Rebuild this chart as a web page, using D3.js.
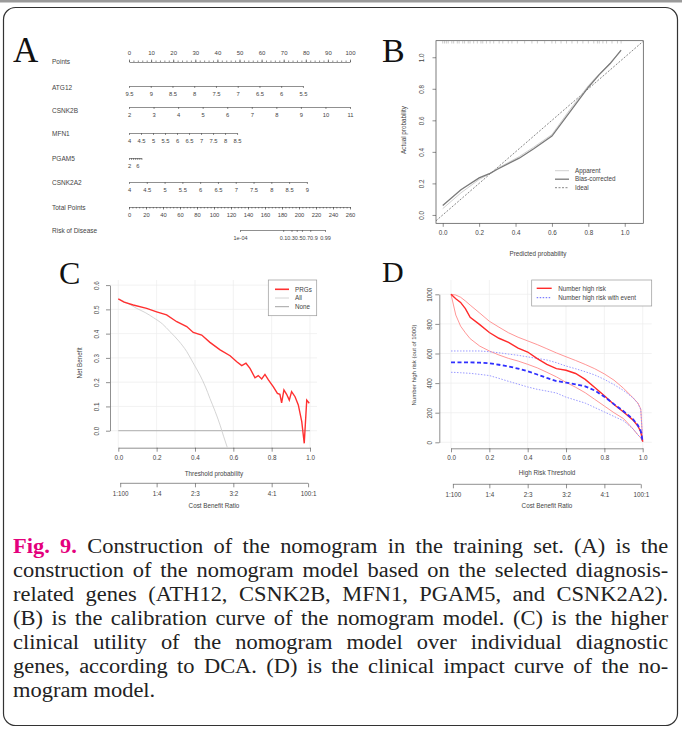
<!DOCTYPE html>
<html>
<head>
<meta charset="utf-8">
<script src="https://cdn.jsdelivr.net/npm/d3@7"></script>
<style>
  body { margin: 0; background: #fff; }
  #fig { position: relative; width: 682px; height: 731px; overflow: hidden; }
  #fig svg { position: absolute; left: 0; top: 0; }
  .cap { position: absolute; left: 13px; top: 534px; width: 630px;
         transform: scaleX(1.04); transform-origin: left top;
         font-family: "Liberation Serif", "Times New Roman", serif;
         font-size: 21.6px; line-height: 24px; color: #222; }
  .cap div { text-align: justify; text-align-last: justify; white-space: nowrap; }
  .cap div.last { text-align-last: left; }
  .cap .fig { color: #e4007c; font-weight: bold; }
</style>
</head>
<body>
<div id="fig"></div>
<script>
// ---------- data ----------
// A: nomogram
const pointTicks = [0, 10, 20, 30, 40, 50, 60, 70, 80, 90, 100];
const atg12Ticks = [9.5, 9, 8.5, 8, 7.5, 7, 6.5, 6, 5.5];
const atg12Points = [0, 78.7];
const csnk2bTicks = [2, 3, 4, 5, 6, 7, 8, 9, 10, 11];
const csnk2bPoints = [0, 100];
const mfn1Ticks = [4, 4.5, 5, 5.5, 6, 6.5, 7, 7.5, 8, 8.5];
const mfn1Points = [0, 48.9];
const pgam5Ticks = [2, 3, 4, 5, 6, 7, 8];
const pgam5Labels = [2, 6];
const pgam5Points = [0, 5.6];
const csnk2a2Ticks = [4, 4.5, 5, 5.5, 6, 6.5, 7, 7.5, 8, 8.5, 9];
const csnk2a2Points = [0, 80.5];
const totalTicks = [0, 20, 40, 60, 80, 100, 120, 140, 160, 180, 200, 220, 240, 260];
const riskTicks = [1e-4, 0.1, 0.3, 0.5, 0.7, 0.9, 0.99];
const riskLabels = ["1e-04", "0.1", "0.3", "0.5", "0.7", "0.9", "0.99"];
const riskTotalPoints = [130.6, 230.6];   // total points at 1e-04 and 0.99

// B: calibration
const calTicks = [0, 0.2, 0.4, 0.6, 0.8, 1.0];
const calPred = [0, 0.1, 0.2, 0.26, 0.3, 0.42, 0.5, 0.6, 0.7, 0.8, 0.86, 0.92, 0.98];
const calApparent = [0.04, 0.14, 0.225, 0.262, 0.295, 0.37, 0.43, 0.51, 0.67, 0.82, 0.895, 0.965, 1.04];
const calBias = [0.06, 0.16, 0.235, 0.264, 0.29, 0.36, 0.42, 0.50, 0.655, 0.81, 0.89, 0.96, 1.045];
const rugPred = [0.0, 0.01, 0.02, 0.03, 0.05, 0.06, 0.08, 0.09, 0.11, 0.12, 0.14, 0.15, 0.17, 0.19,
  0.21, 0.22, 0.24, 0.26, 0.28, 0.31, 0.33, 0.36, 0.38, 0.41, 0.45, 0.49, 0.52, 0.56, 0.6, 0.62,
  0.65, 0.68, 0.71, 0.74, 0.77, 0.8, 0.83, 0.85, 0.86, 0.88, 0.9, 0.93, 0.96, 0.98];

// C: decision curve
const thrTicks = [0, 0.2, 0.4, 0.6, 0.8, 1.0];
const nbTicks = [0, 0.1, 0.2, 0.3, 0.4, 0.5, 0.6];
const cbTicks = [0.0099, 0.2, 0.4, 0.6, 0.8, 0.99];
const cbLabels = ["1:100", "1:4", "2:3", "3:2", "4:1", "100:1"];
const prgThreshold = [0, 0.03, 0.078, 0.148, 0.2, 0.252, 0.305, 0.357, 0.391, 0.435, 0.478, 0.531,
  0.583, 0.618, 0.644, 0.666, 0.687, 0.713, 0.73, 0.748, 0.765, 0.783, 0.809, 0.83, 0.843, 0.852,
  0.864, 0.878, 0.892, 0.904, 0.922, 0.939, 0.957, 0.97, 0.983, 0.996];
const prgNetBenefit = [0.543, 0.53, 0.518, 0.504, 0.49, 0.477, 0.449, 0.429, 0.405, 0.394, 0.364, 0.333,
  0.309, 0.284, 0.268, 0.278, 0.257, 0.218, 0.227, 0.213, 0.232, 0.209, 0.181, 0.154, 0.15, 0.115,
  0.168, 0.15, 0.126, 0.161, 0.14, 0.106, 0.037, -0.052, 0.126, 0.113];
const allThreshold = [0, 0.05, 0.096, 0.14, 0.183, 0.23, 0.27, 0.315, 0.357, 0.39, 0.426, 0.455, 0.478, 0.505, 0.531, 0.55, 0.569];
const allNetBenefit = [0.543, 0.525, 0.504, 0.487, 0.466, 0.44, 0.408, 0.37, 0.326, 0.28, 0.229, 0.18, 0.133, 0.08, 0.023, -0.025, -0.07];
const noneThreshold = [0, 1];
const noneNetBenefit = [0, 0];

// D: clinical impact curve
const cicTicks = [0, 200, 400, 600, 800, 1000];
const cicThreshold = [0, 0.025, 0.05, 0.075, 0.1, 0.15, 0.2, 0.25, 0.3, 0.35, 0.4, 0.45, 0.5,
  0.55, 0.6, 0.65, 0.7, 0.75, 0.8, 0.85, 0.9, 0.95, 0.975, 0.99, 1];
const highRisk = [1000, 970, 945, 903, 845, 795, 742, 703, 675, 636, 610, 565, 527, 498, 487, 465, 425, 370, 315, 255, 205, 150, 110, 70, 5];
const highRiskUpper = [1000, 995, 980, 955, 927, 873, 818, 778, 740, 710, 685, 660, 632, 604, 578, 553, 526, 497, 462, 420, 365, 300, 265, 225, 5];
const highRiskLower = [1000, 860, 785, 740, 700, 650, 617, 590, 567, 549, 527, 503, 473, 442, 405, 372, 335, 290, 245, 200, 160, 90, 50, 30, 5];
const withEvent = [540, 540, 540, 540, 540, 538, 534, 524, 513, 498, 480, 458, 435, 414, 403, 392, 378, 350, 308, 258, 210, 155, 115, 75, 5];
const withEventUpper = [617, 617, 617, 617, 617, 617, 612, 605, 596, 588, 577, 567, 556, 538, 515, 497, 477, 455, 425, 390, 350, 300, 262, 220, 5];
const withEventLower = [473, 472, 470, 468, 466, 459, 451, 432, 412, 393, 374, 358, 346, 333, 305, 285, 265, 235, 205, 175, 145, 90, 50, 30, 5];

// ---------- setup ----------
const W = 682, H = 731;
const FONT = "'Liberation Sans', Arial, sans-serif";
const SERIF = "'Liberation Serif', 'Times New Roman', serif";
const INK = "#444";

const svg = d3.select("#fig").append("svg").attr("width", W).attr("height", H);

// frame
svg.append("rect").attr("x", 0).attr("y", 0).attr("width", W).attr("height", 2.5).attr("fill", "#9a9a9a");
svg.append("rect").attr("x", 3.5).attr("y", 7.5).attr("width", 674).attr("height", 718)
  .attr("rx", 12).attr("fill", "none").attr("stroke", "#333").attr("stroke-width", 1.2);

function styleAxis(g, size) {
  g.attr("font-family", FONT).attr("font-size", size || 6).attr("color", INK);
  g.selectAll("path.domain, .tick line").attr("stroke-width", 0.6);
  return g;
}

function letter(txt, x, y, size) {
  svg.append("text").attr("x", x).attr("y", y).attr("font-family", SERIF)
    .attr("font-size", size).attr("fill", "#111").text(txt);
}

function label(txt, x, y, opts) {
  opts = opts || {};
  const t = svg.append("text").attr("font-family", FONT).attr("font-size", opts.size || 6.3)
    .attr("fill", INK).attr("text-anchor", opts.anchor || "start").text(txt);
  if (opts.rotate) t.attr("transform", `translate(${x},${y}) rotate(-90)`);
  else t.attr("x", x).attr("y", y);
  return t;
}

function rotateYLabels(g, off) {
  g.selectAll(".tick text").attr("transform", "rotate(-90)")
    .attr("x", 0).attr("y", -off).attr("dy", 0).attr("text-anchor", "middle");
}

// ---------- A: nomogram ----------
letter("A", 13, 62, 35);
const pointsX = d3.scaleLinear().domain([0, 100]).range([129, 350]);
const totalX = d3.scaleLinear().domain([0, 260]).range([129, 350]);

// Points (labels above)
label("Points", 52, 64, { size: 6.5 });
styleAxis(svg.append("g").attr("transform", "translate(0,62)")
  .call(d3.axisTop(pointsX).tickValues(pointTicks).tickSize(2.5).tickPadding(4.5).tickSizeOuter(0)));
styleAxis(svg.append("g").attr("transform", "translate(0,62)")
  .call(d3.axisTop(pointsX).tickValues(d3.range(0, 101, 2)).tickSize(1.5).tickFormat("")))
  .select(".domain").remove();

const nomoRows = [
  { name: "ATG12", ticks: atg12Ticks, points: atg12Points, y: 86, ny: 90 },
  { name: "CSNK2B", ticks: csnk2bTicks, points: csnk2bPoints, y: 107, ny: 113 },
  { name: "MFN1", ticks: mfn1Ticks, points: mfn1Points, y: 133, ny: 136 },
  { name: "PGAM5", ticks: pgam5Ticks, points: pgam5Points, y: 158, ny: 161, labels: pgam5Labels },
  { name: "CSNK2A2", ticks: csnk2a2Ticks, points: csnk2a2Points, y: 182, ny: 185 }
];
nomoRows.forEach(r => {
  label(r.name, 52, r.ny, { size: 6.5 });
  const sc = d3.scaleLinear().domain([r.ticks[0], r.ticks[r.ticks.length - 1]])
    .range(r.points.map(pointsX));
  const shown = r.labels || r.ticks;
  styleAxis(svg.append("g").attr("transform", `translate(0,${r.y})`)
    .call(d3.axisBottom(sc).tickValues(r.ticks).tickSize(2).tickPadding(3.6).tickSizeOuter(0)
      .tickFormat(d => shown.includes(d) ? String(d) : "")), 5.8);
});

// Total Points
label("Total Points", 52, 210, { size: 6.5 });
styleAxis(svg.append("g").attr("transform", "translate(0,207)")
  .call(d3.axisBottom(totalX).tickValues(totalTicks).tickSize(2.5).tickPadding(3.2).tickSizeOuter(0)), 5.8);
styleAxis(svg.append("g").attr("transform", "translate(0,207)")
  .call(d3.axisBottom(totalX).tickValues(d3.range(0, 261, 4)).tickSize(1.5).tickFormat("")))
  .select(".domain").remove();

// Risk of Disease (crowded labels set side by side, as in the printed nomogram)
const logit = p => Math.log(p / (1 - p));
const riskX = d3.scaleLinear().domain([logit(riskTicks[0]), logit(riskTicks[riskTicks.length - 1])])
  .range(riskTotalPoints.map(totalX));
label("Risk of Disease", 52, 233, { size: 6.5 });
const gRisk = styleAxis(svg.append("g").attr("transform", "translate(0,230)")
  .call(d3.axisBottom(riskX).tickValues(riskTicks.map(logit)).tickSize(2).tickPadding(3.6).tickSizeOuter(0)
    .tickFormat((d, i) => riskLabels[i])), 5.5);
gRisk.selectAll(".tick text").each(function (d, i) {
  if (i >= 1 && i <= 5) {
    const want = 283 + (i - 1) * 7.6;
    d3.select(this).attr("x", want - riskX(d));
  }
});

// ---------- B: calibration ----------
letter("B", 382, 62, 34);
const xB = d3.scaleLinear().domain([-0.037, 1.102]).range([436, 643.3]);
const yB = d3.scaleLinear().domain([-0.053, 1.105]).range([223.3, 40.7]);
svg.append("clipPath").attr("id", "clipB").append("rect")
  .attr("x", 436).attr("y", 40.7).attr("width", 207.3).attr("height", 182.6);

const gxB = styleAxis(svg.append("g").attr("transform", "translate(0,223.3)")
  .call(d3.axisBottom(xB).tickValues(calTicks).tickSize(3.5).tickPadding(4).tickFormat(d3.format(".1f"))), 6.3);
gxB.select(".domain").remove();
const gyB = styleAxis(svg.append("g").attr("transform", "translate(436,0)")
  .call(d3.axisLeft(yB).tickValues(calTicks).tickSize(3.5).tickFormat(d3.format(".1f"))), 6.3);
gyB.select(".domain").remove();
rotateYLabels(gyB, 11.7);
svg.append("rect").attr("x", 436).attr("y", 40.7).attr("width", 207.3).attr("height", 182.6)
  .attr("fill", "none").attr("stroke", INK).attr("stroke-width", 0.7);
label("Predicted probability", 538, 255.5, { anchor: "middle" });
label("Actual probability", 406, 130, { anchor: "middle", rotate: true });

const plotB = svg.append("g").attr("clip-path", "url(#clipB)");
// rug of predicted probabilities along the top
plotB.selectAll("line.rug").data(rugPred).join("line").attr("class", "rug")
  .attr("x1", d => xB(d)).attr("x2", d => xB(d)).attr("y1", 40.7).attr("y2", 43.5)
  .attr("stroke", "#999").attr("stroke-width", 0.5);
const lineB = d3.line().x(d => xB(d[0])).y(d => yB(d[1]));
plotB.append("path").datum(xB.domain().map(v => [v, v])).attr("d", lineB)
  .attr("fill", "none").attr("stroke", "#555").attr("stroke-width", 0.7).attr("stroke-dasharray", "2,1.5");
plotB.append("path").datum(d3.zip(calPred, calApparent)).attr("d", lineB)
  .attr("fill", "none").attr("stroke", "#c4c4c4").attr("stroke-width", 0.8);
plotB.append("path").datum(d3.zip(calPred, calBias)).attr("d", lineB)
  .attr("fill", "none").attr("stroke", "#7a7a7a").attr("stroke-width", 1.3);

const legB = [
  { name: "Apparent", color: "#c4c4c4", w: 0.8, dash: null },
  { name: "Bias-corrected", color: "#7a7a7a", w: 1.3, dash: null },
  { name: "Ideal", color: "#555", w: 0.7, dash: "2,1.5" }
];
legB.forEach((d, i) => {
  const y = 170.7 + i * 8.5;
  svg.append("line").attr("x1", 555).attr("x2", 569).attr("y1", y).attr("y2", y)
    .attr("stroke", d.color).attr("stroke-width", d.w).attr("stroke-dasharray", d.dash);
  label(d.name, 575, y + 2.2);
});

// ---------- helpers for C and D ----------
function gridAndAxes(xs, ys, xTicks, yTicks, yFmt, region, yOff, xAxisY, cbAxisY) {
  const grid = svg.append("g");
  grid.selectAll("line.vx").data(xTicks).join("line")
    .attr("x1", d => xs(d)).attr("x2", d => xs(d)).attr("y1", region.y0).attr("y2", region.y1)
    .attr("stroke", "#ececec").attr("stroke-width", 0.7);
  grid.selectAll("line.hy").data(yTicks).join("line")
    .attr("y1", d => ys(d)).attr("y2", d => ys(d)).attr("x1", region.x0).attr("x2", region.x1)
    .attr("stroke", "#ececec").attr("stroke-width", 0.7);

  styleAxis(svg.append("g").attr("transform", `translate(0,${xAxisY})`)
    .call(d3.axisBottom(xs).tickValues(xTicks).tickSize(4).tickPadding(3.5).tickSizeOuter(0)
      .tickFormat(d3.format(".1f"))), 6.3);
  const gy = styleAxis(svg.append("g").attr("transform", `translate(${region.x0},0)`)
    .call(d3.axisLeft(ys).tickValues(yTicks).tickSize(4).tickSizeOuter(0).tickFormat(yFmt)), 6.3);
  rotateYLabels(gy, yOff);

  const gcb = styleAxis(svg.append("g").attr("transform", `translate(0,${cbAxisY})`)
    .call(d3.axisBottom(xs).tickValues(cbTicks).tickSize(4).tickPadding(4).tickSizeOuter(0)
      .tickFormat((d, i) => cbLabels[i])), 6.3);
  gcb.select(".domain").remove();
  gcb.append("line").attr("x1", xs(cbTicks[0])).attr("x2", xs(cbTicks[cbTicks.length - 1]))
    .attr("stroke", "currentColor").attr("stroke-width", 0.6);
}

// ---------- C: decision curve ----------
letter("C", 59, 284, 32);
const xC = d3.scaleLinear().domain([0, 1]).range([118.3, 310]);
const yC = d3.scaleLinear().domain([0, 0.6]).range([430.7, 285.1]);
const regC = { x0: 110, x1: 317, y0: 280, y1: 447.7 };
svg.append("clipPath").attr("id", "clipC").append("rect")
  .attr("x", regC.x0).attr("y", regC.y0).attr("width", regC.x1 - regC.x0).attr("height", regC.y1 - regC.y0);
gridAndAxes(xC, yC, thrTicks, nbTicks, d3.format(".1f"), regC, 10.7, 447.7, 483.3);
label("Threshold probability", 214, 475.5, { anchor: "middle" });
label("Cost Benefit Ratio", 214, 508, { anchor: "middle" });
label("Net Benefit", 82, 363, { anchor: "middle", rotate: true });

const lineC = d3.line().x(d => xC(d[0])).y(d => yC(d[1]));
const plotC = svg.append("g").attr("clip-path", "url(#clipC)");
plotC.append("path").datum(d3.zip(noneThreshold, noneNetBenefit)).attr("d", lineC)
  .attr("fill", "none").attr("stroke", "#a8a8a8").attr("stroke-width", 0.9);
plotC.append("path").datum(d3.zip(allThreshold, allNetBenefit)).attr("d", lineC.curve(d3.curveMonotoneX))
  .attr("fill", "none").attr("stroke", "#cfcfcf").attr("stroke-width", 0.9);
lineC.curve(d3.curveLinear);
plotC.append("path").datum(d3.zip(prgThreshold, prgNetBenefit)).attr("d", lineC)
  .attr("fill", "none").attr("stroke", "#ff3030").attr("stroke-width", 1.4);

svg.append("rect").attr("x", 268.3).attr("y", 280).attr("width", 48.4).attr("height", 35.7)
  .attr("fill", "#fff").attr("stroke", "#999").attr("stroke-width", 0.7);
const legC = [
  { name: "PRGs", color: "#ff3030", w: 1.6 },
  { name: "All", color: "#cfcfcf", w: 0.9 },
  { name: "None", color: "#999", w: 0.9 }
];
legC.forEach((d, i) => {
  const y = 289.3 + i * 8.7;
  svg.append("line").attr("x1", 275).attr("x2", 289).attr("y1", y).attr("y2", y)
    .attr("stroke", d.color).attr("stroke-width", d.w);
  label(d.name, 295, y + 2.2);
});

// ---------- D: clinical impact curve ----------
letter("D", 382, 282, 30);
const xD = d3.scaleLinear().domain([0, 1]).range([451, 642.7]);
const yD = d3.scaleLinear().domain([0, 1000]).range([442.3, 294.3]);
const regD = { x0: 439.3, x1: 651.7, y0: 280, y1: 448.3 };
svg.append("clipPath").attr("id", "clipD").append("rect")
  .attr("x", regD.x0).attr("y", regD.y0).attr("width", regD.x1 - regD.x0).attr("height", regD.y1 - regD.y0);
gridAndAxes(xD, yD, thrTicks, cicTicks, d3.format("d"), regD, 7.2, 448.3, 484.3);
label("High Risk Threshold", 547, 475, { anchor: "middle" });
label("Cost Benefit Ratio", 547, 508, { anchor: "middle" });
label("Number high risk (out of 1000)", 415.5, 365, { anchor: "middle", rotate: true, size: 6 });

const lineD = d3.line().x(d => xD(d[0])).y(d => yD(d[1]));
const plotD = svg.append("g").attr("clip-path", "url(#clipD)");
const cicSeries = [
  { v: highRiskUpper, color: "#ff8a8a", w: 0.9, dash: null },
  { v: highRiskLower, color: "#ff8a8a", w: 0.9, dash: null },
  { v: withEventUpper, color: "#8f8fff", w: 0.9, dash: "1.5,1.5" },
  { v: withEventLower, color: "#8f8fff", w: 0.9, dash: "1.5,1.5" },
  { v: highRisk, color: "#ff2a2a", w: 1.4, dash: null },
  { v: withEvent, color: "#2f2fff", w: 1.8, dash: "4,2.5" }
];
cicSeries.forEach(s => {
  plotD.append("path").datum(d3.zip(cicThreshold, s.v)).attr("d", lineD)
    .attr("fill", "none").attr("stroke", s.color).attr("stroke-width", s.w)
    .attr("stroke-dasharray", s.dash);
});

svg.append("rect").attr("x", 531.7).attr("y", 280).attr("width", 120).attr("height", 26)
  .attr("fill", "#fff").attr("stroke", "#999").attr("stroke-width", 0.7);
const legD = [
  { name: "Number high risk", color: "#ff2a2a", w: 1.4, dash: null },
  { name: "Number high risk with event", color: "#6060ff", w: 1, dash: "1.5,1.5" }
];
legD.forEach((d, i) => {
  const y = 288.3 + i * 9.4;
  svg.append("line").attr("x1", 536.7).attr("x2", 551.7).attr("y1", y).attr("y2", y)
    .attr("stroke", d.color).attr("stroke-width", d.w).attr("stroke-dasharray", d.dash);
  label(d.name, 558.3, y + 2.2);
});

// ---------- caption ----------
const captionLines = [
  "construction of the nomogram model based on the selected diagnosis-",
  "related genes (ATH12, CSNK2B, MFN1, PGAM5, and CSNK2A2).",
  "(B) is the calibration curve of the nomogram model. (C) is the higher",
  "clinical utility of the nomogram model over individual diagnostic",
  "genes, according to DCA. (D) is the clinical impact curve of the no-",
  "mogram model."
];
const cap = d3.select("#fig").append("div").attr("class", "cap");
const first = cap.append("div");
first.append("span").attr("class", "fig").text("Fig. 9.");
first.append("span").text(" Construction of the nomogram in the training set. (A) is the");
captionLines.forEach((t, i) => {
  cap.append("div").attr("class", i === captionLines.length - 1 ? "last" : null).append("span").text(t);
});
// squeeze word spacing of any line that is wider than the column
const colW = 630, capScale = 1.04;
cap.selectAll("div").each(function () {
  const div = d3.select(this);
  const spans = div.selectAll("span").nodes();
  const natural = d3.sum(spans, s => s.getBoundingClientRect().width) / capScale;
  const spaces = (this.textContent.match(/ /g) || []).length;
  if (natural > colW - 1 && spaces > 0) {
    div.style("word-spacing", ((colW - 1 - natural) / spaces) + "px");
  }
});
</script>
</body>
</html>
